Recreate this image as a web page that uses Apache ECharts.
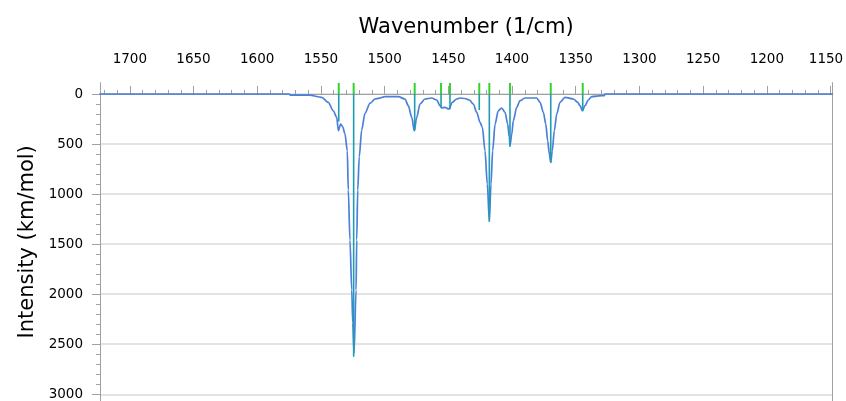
<!DOCTYPE html>
<html><head><meta charset="utf-8">
<script src="https://cdn.jsdelivr.net/npm/echarts@6/dist/echarts.min.js"></script>
<style>html,body{margin:0;padding:0;background:#fff}#c{width:846px;height:401px}</style>
</head><body><div id="c"></div>
<script>
// Spectrum curve (wavenumber in 1/cm, intensity in km/mol)
const curveWavenumber = [1724, 1575, 1574, 1559, 1549.4, 1544.2, 1540.3, 1537.6, 1536.3, 1534.5, 1532.9, 1531.1, 1529.3, 1528.5, 1527.2, 1525.8, 1525.0, 1524.0, 1522.4, 1521.9, 1521.1, 1519.9, 1518.0, 1515.4, 1511.5, 1507.5, 1504.9, 1499.7, 1489.2, 1484.0, 1481.4, 1478.7, 1476.7, 1474.8, 1472.2, 1468.3, 1463.0, 1459.1, 1456.5, 1455.2, 1452.6, 1449.5, 1446.9, 1443.4, 1440.8, 1436.9, 1433.5, 1430.4, 1427.7, 1425.1, 1423.3, 1421.2, 1419.4, 1417.8, 1416.5, 1415.2, 1413.3, 1410.8, 1408.1, 1405.5, 1403.4, 1402.1, 1401.6, 1400.2, 1399.0, 1396.3, 1393.7, 1389.8, 1380.6, 1378.0, 1375.4, 1373.5, 1372.0, 1370.7, 1369.6, 1368.4, 1366.8, 1364.9, 1362.3, 1358.4, 1351.9, 1348.4, 1346.6, 1344.8, 1342.7, 1340.1, 1337.4, 1329.6, 1327.5, 1327.0, 1148];
const curveIntensity  = [0, 0, 12, 12, 33, 83, 167, 233, 367, 300, 327, 400, 567, 959, 1459, 1958, 2288, 2590, 1958, 1459, 959, 627, 360, 193, 93, 50, 43, 27, 27, 50, 117, 233, 367, 233, 100, 50, 40, 60, 117, 140, 133, 150, 83, 50, 40, 45, 60, 100, 183, 283, 333, 567, 899, 1266, 899, 567, 300, 167, 140, 183, 300, 433, 517, 400, 267, 133, 67, 40, 40, 83, 183, 300, 467, 600, 683, 567, 367, 200, 83, 33, 50, 83, 117, 167, 117, 60, 27, 17, 17, 0, 0];
// Stick spectrum
const stickWavenumber = [1536.0, 1524.3, 1476.4, 1455.7, 1448.7, 1425.7, 1417.8, 1401.6, 1369.6, 1344.5];
const stickIntensity  = [275, 2624, 365, 130, 152, 160, 1276, 526, 686, 172];
// Tick labels
const xTickLabels = [1150, 1200, 1250, 1300, 1350, 1400, 1450, 1500, 1550, 1600, 1650, 1700];
const yTickLabels = [0, 500, 1000, 1500, 2000, 2500, 3000];

const X_MIN = 1148.6, X_MAX = 1723.4, Y_MIN = -113, Y_MAX = 3067;
const xMinorTicks = []; for (let v = 1150; v <= 1720; v += 10) xMinorTicks.push(v);
const yMinorTicks = []; for (let v = 0; v <= 3000; v += 100) yMinorTicks.push(v);

const FONT = 'DejaVu Sans';
const AX = '#a0a0a0';
const plain = v => String(v);

const chart = echarts.init(document.getElementById('c'), null, {renderer: 'canvas'});
chart.setOption({
  animation: false,
  backgroundColor: '#fff',
  grid: {left: 100, right: 13.7, top: 82.7, bottom: 0, containLabel: false, outerBoundsMode: 'none'},
  xAxis: [{
    type: 'value', position: 'top', inverse: true, min: X_MIN, max: X_MAX,
    name: 'Wavenumber (1/cm)', nameLocation: 'middle', nameGap: 45,
    nameTextStyle: {fontSize: 21, color: '#000', fontFamily: FONT},
    axisLine: {show: true, lineStyle: {color: AX, width: 1}},
    axisTick: {show: true, length: 8, customValues: xTickLabels, lineStyle: {color: AX}},
    axisLabel: {
      customValues: xTickLabels,
      formatter: v => (v === xTickLabels[0] ? '{e|' + v + '}' : String(v)),
      rich: {e: {padding: [0, 9, 0, 0], fontSize: 13.5, color: '#000', fontFamily: FONT}},
      margin: 16, fontSize: 13.5, color: '#000', fontFamily: FONT, hideOverlap: false
    },
    splitLine: {show: false}
  }, {
    type: 'value', position: 'top', inverse: true, min: X_MIN, max: X_MAX,
    axisLine: {show: false},
    axisTick: {show: true, length: 4, customValues: xMinorTicks, lineStyle: {color: AX}},
    axisLabel: {show: false}, splitLine: {show: false}
  }],
  yAxis: [{
    type: 'value', position: 'left', inverse: true, min: Y_MIN, max: Y_MAX,
    name: 'Intensity (km/mol)', nameLocation: 'middle', nameGap: 62, nameRotate: 90,
    nameTextStyle: {fontSize: 21, color: '#000', fontFamily: FONT},
    axisLine: {show: true, lineStyle: {color: AX, width: 1}},
    axisTick: {show: true, length: 8, customValues: yTickLabels, lineStyle: {color: AX}},
    axisLabel: {customValues: yTickLabels, formatter: plain, margin: 17, fontSize: 13.5, color: '#000', fontFamily: FONT},
    splitLine: {show: true, lineStyle: {color: '#dadada', width: 1.5}}
  }, {
    type: 'value', position: 'left', inverse: true, min: Y_MIN, max: Y_MAX,
    axisLine: {show: false},
    axisTick: {show: true, length: 4, customValues: yMinorTicks, lineStyle: {color: AX}},
    axisLabel: {show: false}, splitLine: {show: false}
  }, {
    type: 'value', position: 'right', inverse: true, min: Y_MIN, max: Y_MAX,
    axisLine: {show: true, lineStyle: {color: AX, width: 1}},
    axisTick: {show: false}, axisLabel: {show: false}, splitLine: {show: false}
  }],
  series: [{
    type: 'line', xAxisIndex: 0, yAxisIndex: 0,
    data: curveWavenumber.map((w, i) => [w, curveIntensity[i]]),
    showSymbol: false, smooth: 0.3, smoothMonotone: 'x',
    lineStyle: {color: '#4a80da', width: 1.7}, z: 2
  }, {
    type: 'custom', xAxisIndex: 0, yAxisIndex: 0, clip: true, z: 3,
    data: stickWavenumber.map((w, i) => [w, stickIntensity[i]]),
    encode: {x: 0, y: 1},
    renderItem: function (params, api) {
      const x = api.value(0), v = api.value(1);
      const top = api.coord([x, Y_MIN]);
      const zero = api.coord([x, 0]);
      const end = api.coord([x, v]);
      return {type: 'group', children: [
        {type: 'line', shape: {x1: top[0], y1: top[1], x2: zero[0], y2: zero[1]}, style: {stroke: '#33d133', lineWidth: 2}},
        {type: 'line', shape: {x1: zero[0], y1: zero[1], x2: end[0], y2: end[1]}, style: {stroke: '#1f9cb2', lineWidth: 1.6}}
      ]};
    }
  }]
});
</script></body></html>
